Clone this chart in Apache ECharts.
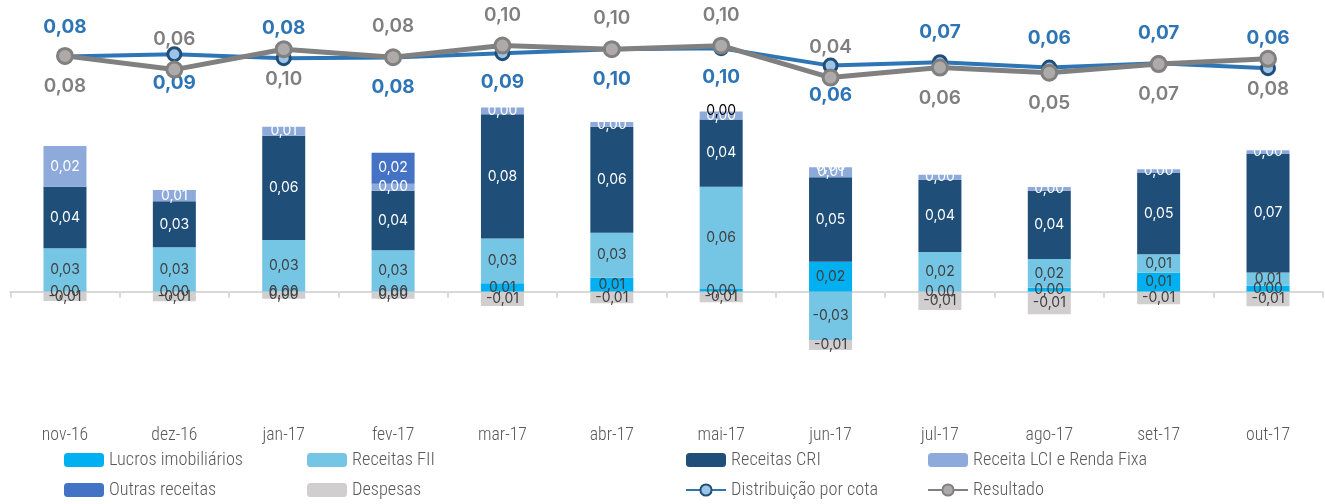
<!DOCTYPE html>
<html>
<head>
<meta charset="utf-8">
<script src="https://cdn.jsdelivr.net/npm/echarts@6/dist/echarts.min.js"></script>
<style>html,body{margin:0;padding:0;background:#fff}#c{width:1325px;height:504px}</style>
</head>
<body>
<div id="c"></div>
<script>
const categories = ['nov-16','dez-16','jan-17','fev-17','mar-17','abr-17','mai-17','jun-17','jul-17','ago-17','set-17','out-17'];
const lucros       = [0, 0, 0, 0, 0.0051, 0.0085, 0.0016, 0.0182, 0, 0.0024, 0.0115, 0.0036];
const receitasFII  = [0.0263, 0.0269, 0.0313, 0.0251, 0.0271, 0.0273, 0.0620, -0.0293, 0.0241, 0.0174, 0.0112, 0.0081];
const receitasCRI  = [0.0373, 0.0279, 0.0632, 0.0361, 0.0753, 0.0642, 0.0408, 0.0512, 0.0438, 0.0414, 0.0493, 0.0717];
const receitaLCI   = [0.0247, 0.0068, 0.0055, 0.0042, 0.0041, 0.0028, 0.0048, 0.0061, 0.0030, 0.0022, 0.0022, 0.0024];
const outras       = [null, null, null, 0.0188, null, null, 0, 0, null, null, null, null];
const despesas     = [-0.0056, -0.0058, -0.0042, -0.0042, -0.0087, -0.0070, -0.0064, -0.0061, -0.0111, -0.0137, -0.0076, -0.0088];
const distribuicao = [0.0813, 0.0860, 0.0782, 0.0793, 0.0880, 0.0955, 0.0978, 0.0636, 0.0703, 0.0597, 0.0684, 0.0585];
const resultado    = [0.0827, 0.0558, 0.0958, 0.0800, 0.1029, 0.0958, 0.1028, 0.0401, 0.0598, 0.0497, 0.0666, 0.0770];

// label placement config
const distLabelPos = ['top','bottom','top','bottom','bottom','bottom','bottom','bottom','top','top','top','top'];
const resLabelPos  = ['bottom','top','bottom','top','top','top','top','top','bottom','bottom','bottom','bottom'];
const outrasDarkLabelIdx = [6];

const fmt = v => {
  if (v == null) return '';
  if (Math.abs(v) < 0.005) return '0,00';
  return v.toFixed(2).replace('.', ',');
};
const numFont = "Inter, 'Open Sans', sans-serif";

// pick the narrowest installed sans for the condensed, light axis / legend text
const ctx = document.createElement('canvas').getContext('2d');
const sample = 'Lucros imobiliários';
const candidates = ['Open Sans Condensed', 'Liberation Sans Narrow', 'DejaVu Sans Condensed', 'Roboto Condensed', 'Arial Narrow', 'Noto Sans Condensed', 'Lato', 'Roboto', 'Liberation Sans'];
const thinWeight = 300;
let narrowFont = 'sans-serif', best = Infinity;
ctx.font = `${thinWeight} 20px monospace`;
const monoW = ctx.measureText(sample).width;
candidates.forEach(f => {
  ctx.font = `${thinWeight} 20px "${f}", monospace`;
  const w = ctx.measureText(sample).width;
  if (Math.abs(w - monoW) > 0.5 && w < best) { best = w; narrowFont = `"${f}", sans-serif`; }
});
// size so the legend sample is about 134px wide, like the reference
const legendSize = Math.max(15, Math.min(21, 20 * 134 / best));
const axisSize = Math.max(15, Math.min(20, legendSize * 0.97));

function barSeries(name, data, color, labelColor) {
  return {
    name, type: 'bar', stack: 'total', data, barWidth: 43,
    itemStyle: { color },
    label: {
      show: true, position: 'inside', color: labelColor,
      fontFamily: numFont, fontSize: 14,
      formatter: p => fmt(p.value)
    }
  };
}

const outrasSeries = barSeries('Outras receitas', outras.map((v, i) => {
  if (outrasDarkLabelIdx.includes(i)) {
    return { value: v, label: { color: '#000', position: 'top', distance: -6 } };
  }
  return v;
}), '#4472C4', '#fff');

const chart = echarts.init(document.getElementById('c'));
chart.setOption({
  animation: false,
  grid: { left: 10.3, right: 2.3, top: 27.7, bottom: 80.3, containLabel: false },
  xAxis: [
    {
      type: 'category', data: categories,
      axisLine: { onZero: true, lineStyle: { color: '#D9D9D9', width: 2 } },
      axisTick: { show: true, length: 6, lineStyle: { color: '#D9D9D9', width: 2 } },
      axisLabel: { show: false }
    },
    {
      type: 'category', data: categories, position: 'bottom',
      axisLine: { show: false, onZero: false }, axisTick: { show: false },
      axisLabel: { color: '#595959', fontFamily: narrowFont, fontWeight: thinWeight, fontSize: axisSize, margin: 3 }
    }
  ],
  yAxis: [
    { type: 'value', min: -0.08, max: 0.16, show: false, splitLine: { show: false } },
    { type: 'value', min: -0.639, max: 0.138, show: false, splitLine: { show: false } }
  ],
  legend: [
    { data: ['Lucros imobiliários', 'Outras receitas'], left: 64 },
    { data: ['Receitas FII', 'Despesas'], left: 307 },
    { data: ['Receitas CRI', 'Distribuição por cota'], left: 685 },
    { data: ['Receita LCI e Renda Fixa', 'Resultado'], left: 927 }
  ].map(l => Object.assign({
    orient: 'vertical', top: 450, itemGap: 10, itemWidth: 40, itemHeight: 14, padding: 0,
    textStyle: { color: '#595959', fontFamily: narrowFont, fontWeight: thinWeight, fontSize: legendSize, lineHeight: 20 }
  }, l)),
  series: [
    barSeries('Lucros imobiliários', lucros, '#00B0F0', '#404040'),
    barSeries('Receitas FII', receitasFII, '#75C5E5', '#404040'),
    barSeries('Receitas CRI', receitasCRI, '#1F4E79', '#fff'),
    barSeries('Receita LCI e Renda Fixa', receitaLCI, '#8EAADB', '#fff'),
    outrasSeries,
    barSeries('Despesas', despesas, '#D0CECE', '#404040'),
    {
      name: 'Distribuição por cota', type: 'line', yAxisIndex: 1, z: 5,
      data: distribuicao.map((v, i) => ({ value: v, label: { position: distLabelPos[i] } })),
      lineStyle: { color: '#2E75B6', width: 4 },
      itemStyle: { color: '#9DC3E6', borderColor: '#1F4E79', borderWidth: 3 },
      symbol: 'circle', symbolSize: 13, showAllSymbol: true,
      label: { show: true, distance: 12, color: '#2E75B6', fontFamily: numFont, fontSize: 19, fontWeight: 'bold', formatter: p => fmt(p.value) }
    },
    {
      name: 'Resultado', type: 'line', yAxisIndex: 1, z: 6,
      data: resultado.map((v, i) => ({ value: v, label: { position: resLabelPos[i] } })),
      lineStyle: { color: '#808080', width: 5 },
      itemStyle: { color: '#AEAAAA', borderColor: '#808080', borderWidth: 3 },
      symbol: 'circle', symbolSize: 15, showAllSymbol: true,
      label: { show: true, distance: 12, color: '#7F7F7F', fontFamily: numFont, fontSize: 19, fontWeight: 600, formatter: p => fmt(p.value) }
    }
  ]
});
</script>
</body>
</html>
